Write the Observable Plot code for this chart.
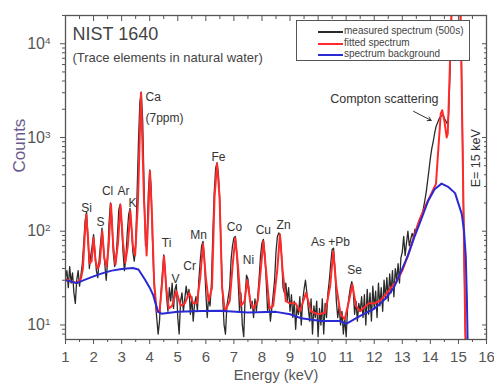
<!DOCTYPE html>
<html><head><meta charset="utf-8">
<script src="https://cdn.jsdelivr.net/npm/d3@7"></script>
<script src="https://cdn.jsdelivr.net/npm/@observablehq/plot@0.6"></script>
<style>
body{margin:0;background:#fff;}
#wrap{position:relative;width:494px;height:385px;font-family:"Liberation Sans",Arial,sans-serif;}
#legend{position:absolute;left:296px;top:20px;width:174px;height:41px;border:1px solid #555;background:#fff;box-sizing:border-box;}
.lrow{position:absolute;left:0;height:12px;font-size:10px;color:#444;white-space:nowrap;}
.lrow span.sw{position:absolute;left:21px;top:5px;width:25px;height:2px;}
.lrow span.tx{position:absolute;left:47px;top:-1px;}
</style></head><body><div id="wrap"></div>
<script>
// ---- data ----
const measuredStart = 1.0, measuredStep = 0.05; // channel grid (keV)
const measuredCounts = [
 32, 38, 25, 42, 28, 36, 22, 17, 30, 38,
 26, 34, 45, 75, 130, 160, 85, 40, 55, 70,
 92, 60, 38, 32, 50, 75, 108, 70, 45, 30,
 48, 120, 200, 140, 60, 42, 48, 90, 170, 195,
 120, 60, 38, 52, 95, 150, 175, 110, 60, 48,
 70, 250, 900, 2400, 3050, 1500, 300, 70, 75, 250,
 450, 300, 80, 30, 18, 12, 8, 11, 22, 35,
 56, 40, 20, 14, 25, 18, 28, 15, 24, 27,
 12, 8, 18, 22, 14, 19, 26, 20, 24, 13,
 20, 11, 17, 20, 14, 30, 48, 70, 78, 50,
 22, 12, 20, 16, 28, 95, 260, 470, 540, 400,
 200, 55, 20, 10, 8, 16, 20, 25, 50, 70,
 85, 88, 60, 30, 14, 22, 10, 7.5, 20, 34,
 31, 22, 15, 18, 12, 19, 14, 20, 32, 55,
 75, 82, 58, 30, 14, 18, 11, 15, 21, 30,
 60, 88, 96, 90, 55, 25, 22, 28, 18, 25,
 14, 21, 12, 18, 9, 16, 13, 20, 10, 18,
 24, 30, 22, 15, 11, 19, 8, 16, 12, 18,
 7.5, 15, 10, 19, 8, 17, 12, 22, 30, 45,
 64, 66, 40, 18, 12, 16, 10, 14, 8, 12,
 7.5, 15, 20, 25, 29, 24, 13, 18, 11, 17,
 14, 20, 12, 21, 10, 24, 13, 22, 11, 26,
 15, 23, 12, 28, 16, 25, 14, 30, 19, 32,
 18, 35, 22, 38, 20, 40, 30, 45, 28, 52,
 60, 88, 55, 75, 100, 70, 82, 95, 85, 105,
 100, 118, 125, 140, 150, 175, 210, 260, 340, 450,
 600, 760, 900, 1100, 1300, 1420, 1550, 1650, 1700, 1750,
 1600, 1500, 1400, 1700, 5000, 20000, 80000, 200000, 400000, 500000,
 300000, 30000, 8000, 800, 60, 8, 5
];
const fittedEnergy = [1.00,1.20,1.40,1.55,1.62,1.68,1.74,1.80,1.86,1.93,2.00,2.07,2.15,2.22,2.31,2.38,2.46,2.54,2.62,2.70,2.78,2.87,2.96,3.05,3.13,3.22,3.31,3.40,3.48,3.58,3.69,3.80,3.89,3.95,4.01,4.08,4.16,4.25,4.35,4.43,4.51,4.59,4.68,4.80,4.95,5.10,5.25,5.41,5.55,5.68,5.80,5.90,6.00,6.10,6.22,6.31,6.40,6.49,6.58,6.68,6.85,6.96,7.05,7.14,7.25,7.38,7.48,7.58,7.70,7.85,7.96,8.05,8.14,8.27,8.40,8.55,8.64,8.73,8.85,9.00,9.20,9.35,9.57,9.75,10.00,10.25,10.43,10.54,10.65,10.80,10.95,11.10,11.22,11.35,11.50,11.65,11.80,12.00,12.20,12.40,12.60,12.80,13.00,13.20,13.40,13.60,13.80,14.00,14.20,14.37,14.42,14.50,14.58,14.62,14.93,15.08,15.25];
const fittedCounts = [31,29,28,31,40,85,150,85,45,48,85,48,40,45,100,52,42,70,195,70,44,75,190,75,46,70,165,70,55,200,3000,200,55,150,440,150,28,14,14,25,54,25,15,16,23,16,17,22,17,17,32,73,32,18,25,230,525,230,25,14,18,45,84,45,16,18,30,18,15,18,40,78,40,15,16,40,93,40,18,17,17,14,22,14,13,13.5,26,61,26,13,11.5,18,27,16,14,15.5,17,17,18,21,25,29,38,55,85,130,180,240,320,1800,1950,1500,1000,1100,1000000,20000,6.5];
const backgroundEnergy = [1.0,1.2,1.4,1.7,2.0,2.3,2.65,3.0,3.4,3.6,3.83,4.0,4.12,4.22,4.3,4.42,5.0,5.85,6.5,7.5,8.5,9.0,9.4,10.1,10.8,11.0,11.5,12.0,12.4,12.7,13.0,13.2,13.45,13.68,13.92,14.15,14.4,14.65,14.88,15.12,15.2,15.26,15.3,15.33];
const backgroundCounts = [30,29,28,30.5,33,35.5,38,39.5,40.5,39,30.5,25,21,16.5,13.8,13.2,13.8,14.1,14.2,13.6,13.8,13,11.8,11,11,10.3,12.5,14.9,19,25,40,55,90,135,210,280,322,295,255,152,100,55,20,6];

const xTicks = [1,2,3,4,5,6,7,8,9,10,11,12,13,14,15,16];
const xMinorTicks = [1.5,2.5,3.5,4.5,5.5,6.5,7.5,8.5,9.5,10.5,11.5,12.5,13.5,14.5,15.5];
const yTicks = [10,100,1000,10000];
const yTickLabels = ["10^1","10^2","10^3","10^4"];
const yMinorTicks = [8,9,20,30,40,50,60,70,80,90,200,300,400,500,600,700,800,900,2000,3000,4000,5000,6000,7000,8000,9000,20000];

const elementNames = ["Si","S","Cl","Ar","K","Ti","V","Cr","Mn","Fe","Co","Ni","Cu","Zn","As +Pb","Se"];
const elementLabelE = [1.75,2.25,2.50,3.07,3.39,4.60,4.92,5.42,5.74,6.45,7.02,7.52,8.05,8.77,10.44,11.30];
const elementLabelC = [175,124,267,267,199,74,31,42,90,615,110,49,102,116,76,38];
const caNotes = ["Ca","(7ppm)"];
const caNoteE = [3.85,3.85];
const caNoteC = [2690,1600];
const comptonText = "Compton scattering", comptonE = 12.36, comptonC = 2560;
const arrowFrom = {E: 13.40, c: 1900}, arrowTo = {E: 14.03, c: 1520};
const beamText = "E= 15 keV", beamE = 15.64, beamC = 600;

const legendLabels = ["measured spectrum (500s)","fitted spectrum","spectrum background"];
const legendColors = ["#2a2a2a","#ff2b2b","#2a2ad4"];

// ---- build ----
const measured = measuredCounts.map((c,i)=>({E: measuredStart + i*measuredStep, c}));
const fitted = fittedEnergy.map((E,i)=>({E, c: fittedCounts[i]}));
const background = backgroundEnergy.map((E,i)=>({E, c: backgroundCounts[i]}));
const blank = () => "";
const axisColor = "#555";

const chart = Plot.plot({
  width: 494, height: 385,
  marginLeft: 65, marginRight: 8, marginTop: 15, marginBottom: 46,
  style: {fontFamily: "'Liberation Sans', Arial, sans-serif", background: "#fff", overflow: "visible"},
  x: {domain: [1, 16]},
  y: {type: "log", domain: [7, 20000]},
  marks: [
    Plot.line(measured, {x: "E", y: "c", stroke: legendColors[0], strokeWidth: 1.3, clip: true}),
    Plot.line(fitted, {x: "E", y: "c", stroke: legendColors[1], strokeWidth: 2, clip: true}),
    Plot.line(background, {x: "E", y: "c", stroke: legendColors[2], strokeWidth: 2, clip: true}),
    Plot.frame({stroke: axisColor, strokeWidth: 1.3}),
    Plot.axisX({ticks: xTicks, tickSize: 5, tickPadding: 7, fontSize: 15, color: axisColor, label: null, tickFormat: d => String(d)}),
    Plot.axisX({ticks: xMinorTicks, tickSize: 3, color: axisColor, label: null, tickFormat: blank}),
    Plot.axisX({anchor: "top", ticks: xTicks, tickSize: -5, color: axisColor, label: null, tickFormat: blank}),
    Plot.axisX({anchor: "top", ticks: xMinorTicks, tickSize: -3, color: axisColor, label: null, tickFormat: blank}),
    Plot.axisY({ticks: yTicks, tickSize: 5, tickPadding: 10, fontSize: 16, color: axisColor, label: null, tickFormat: d => yTickLabels[yTicks.indexOf(d)]}),
    Plot.axisY({ticks: yMinorTicks, tickSize: 3, color: axisColor, label: null, tickFormat: blank}),
    Plot.axisY({anchor: "right", ticks: yTicks, tickSize: -5, color: axisColor, label: null, tickFormat: blank}),
    Plot.axisY({anchor: "right", ticks: yMinorTicks, tickSize: -3, color: axisColor, label: null, tickFormat: blank}),
    Plot.text(["Energy (keV)"], {frameAnchor: "bottom", dy: 40, fontSize: 14.5, fill: "#555"}),
    Plot.text(["Counts"], {frameAnchor: "left", rotate: -90, dx: -46, dy: -5, fontSize: 17, fill: "#6b5a8e"}),
    Plot.text(["NIST 1640"], {frameAnchor: "top-left", textAnchor: "start", lineAnchor: "top", dx: 7, dy: 12, fontSize: 18, fill: "#444"}),
    Plot.text(["(Trace elements in natural water)"], {frameAnchor: "top-left", textAnchor: "start", lineAnchor: "top", dx: 7, dy: 37, fontSize: 13, fill: "#444"}),
    Plot.text(elementNames, {x: (d,i) => elementLabelE[i], y: (d,i) => elementLabelC[i], text: d => d, fontSize: 12, fill: "#333"}),
    Plot.text(caNotes, {x: (d,i) => caNoteE[i], y: (d,i) => caNoteC[i], text: d => d, textAnchor: "start", fontSize: 12, fill: "#333"}),
    Plot.text([comptonText], {x: comptonE, y: comptonC, fontSize: 12.5, fill: "#333"}),
    Plot.arrow([arrowFrom], {x1: d => d.E, y1: d => d.c, x2: () => arrowTo.E, y2: () => arrowTo.c, stroke: "#333", strokeWidth: 1, headLength: 6, bend: 0}),
    Plot.text([beamText], {x: beamE, y: beamC, rotate: -90, fontSize: 12.5, fill: "#333"})
  ]
});

// superscript exponents on y tick labels
d3.select(chart).selectAll("text").each(function() {
  const t = this.textContent;
  if (/^10\^\d$/.test(t)) {
    const [b, e] = t.split("^");
    this.textContent = b;
    d3.select(this).append("tspan").attr("dy", "-0.5em").attr("font-size", "0.62em").text(e);
  }
});

const wrap = document.getElementById("wrap");
wrap.appendChild(chart);
const legend = d3.select(wrap).append("div").attr("id", "legend");
legendLabels.forEach((lab, i) => {
  const row = legend.append("div").attr("class", "lrow").style("top", (5 + i * 11.5) + "px");
  row.append("span").attr("class", "sw").style("background", legendColors[i]);
  row.append("span").attr("class", "tx").text(lab);
});
</script></body></html>
